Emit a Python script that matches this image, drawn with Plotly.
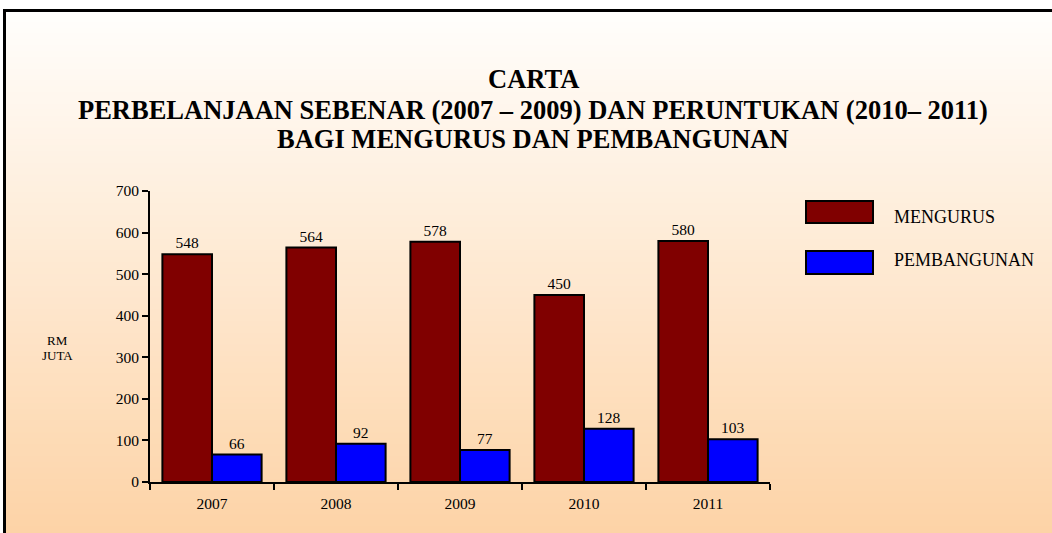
import plotly.graph_objects as go

years = ["2007", "2008", "2009", "2010", "2011"]
mengurus = [548, 564, 578, 450, 580]
pembangunan = [66, 92, 77, 128, 103]
series_names = ["MENGURUS", "PEMBANGUNAN"]
series_colors = ["#800000", "#0000FF"]
title_lines = ["CARTA",
               "PERBELANJAAN SEBENAR (2007 – 2009) DAN PERUNTUKAN (2010– 2011)",
               "BAGI MENGURUS DAN PEMBANGUNAN"]
y_label_lines = ["RM", "JUTA"]
y_ticks = [0, 100, 200, 300, 400, 500, 600, 700]

W, H = 1052, 533
L, R, T, B = 150, 282, 191, 51
PW, PH = W - L - R, H - T - B

def px_x(x):
    return (x - L) / PW

def px_y(y):
    return (H - B - y) / PH

FONT = "Liberation Serif, Times New Roman, serif"

fig = go.Figure()
for name, vals, col in zip(series_names, [mengurus, pembangunan], series_colors):
    fig.add_trace(go.Bar(
        x=years, y=vals, name=name,
        marker=dict(color=col, line=dict(color="black", width=2)),
        text=[str(v) for v in vals], textposition="outside",
        textfont=dict(family=FONT, size=15.5, color="black"),
        cliponaxis=False, showlegend=False,
    ))

shapes = []
# gradient background
top_c = (255, 254, 252)
bot_c = (253, 211, 166)
n = 90
y0p, y1p = 10, H + 5
for i in range(n):
    t = i / (n - 1)
    c = tuple(round(top_c[k] + (bot_c[k] - top_c[k]) * t) for k in range(3))
    ya = y0p + (y1p - y0p) * i / n
    yb = y0p + (y1p - y0p) * (i + 1) / n + 1
    shapes.append(dict(type="rect", xref="paper", yref="paper", layer="below",
                       x0=px_x(4), x1=px_x(W + 10), y0=px_y(ya), y1=px_y(yb),
                       fillcolor="rgb(%d,%d,%d)" % c, line=dict(width=0)))
# border
shapes.append(dict(type="rect", xref="paper", yref="paper", layer="below",
                   x0=px_x(4.5), x1=px_x(W + 20), y0=px_y(10.5), y1=px_y(H + 20),
                   fillcolor="rgba(0,0,0,0)", line=dict(color="black", width=3)))
# custom legend swatches
legend_boxes = [(201, 223), (251, 274)]
legend_text_y = [217, 260]
annotations = []
for (ya, yb), ty, name, col in zip(legend_boxes, legend_text_y, series_names, series_colors):
    shapes.append(dict(type="rect", xref="paper", yref="paper",
                       x0=px_x(806), x1=px_x(873), y0=px_y(ya), y1=px_y(yb),
                       fillcolor=col, line=dict(color="black", width=2)))
    annotations.append(dict(xref="paper", yref="paper", x=px_x(892), y=px_y(ty),
                            xanchor="left", yanchor="middle", showarrow=False, text=name,
                            font=dict(family=FONT, size=18, color="black")))
for txt, ty in zip(y_label_lines, [340, 355]):
    annotations.append(dict(xref="paper", yref="paper", x=px_x(57), y=px_y(ty),
                            xanchor="center", yanchor="middle", showarrow=False,
                            text=txt, font=dict(family=FONT, size=13, color="black")))
for txt, ty in zip(title_lines, [79, 110, 138.5]):
    annotations.append(dict(xref="paper", yref="paper", x=px_x(533), y=px_y(ty),
                            xanchor="center", yanchor="middle", showarrow=False,
                            text="<b>%s</b>" % txt,
                            font=dict(family=FONT, size=26.5, color="black")))

fig.update_layout(
    width=W, height=H,
    margin=dict(l=L, r=R, t=T, b=B),
    paper_bgcolor="white", plot_bgcolor="rgba(0,0,0,0)",
    barmode="group", bargap=0.2, bargroupgap=0,
    font=dict(family=FONT, color="black"),
    shapes=shapes, annotations=annotations,
    showlegend=False,
)
fig.update_xaxes(showline=True, linecolor="black", linewidth=2, ticks="outside",
                 tickson="boundaries", ticklen=6, tickwidth=2, tickcolor="black",
                 tickfont=dict(family=FONT, size=15.5, color="black"), showgrid=False,
                 ticklabelstandoff=6)
fig.update_yaxes(range=[0, 700], tickvals=y_ticks, showline=True, linecolor="black",
                 linewidth=2, ticks="outside", ticklen=6, tickwidth=2, tickcolor="black",
                 tickfont=dict(family=FONT, size=15.5, color="black"), showgrid=False,
                 zeroline=False)

fig.write_html("out.html", config={"displayModeBar": False},
               post_script="document.body.style.margin='0';document.body.style.overflow='hidden';")
